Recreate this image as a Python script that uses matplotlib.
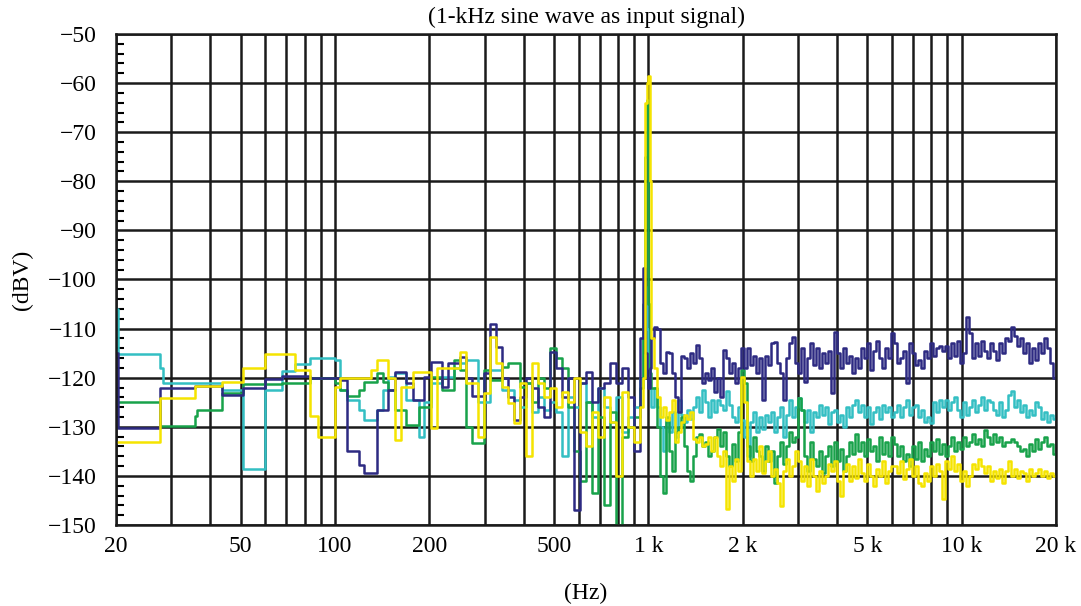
import numpy as np
import matplotlib.pyplot as plt
from matplotlib.ticker import MultipleLocator, NullLocator

plt.rcParams['font.family'] = ['Liberation Serif', 'DejaVu Serif']

# low end of the spectrum, drawn as steps (Hz, dBV)
navy_lo_f = [20, 20.3, 27.6, 35.7, 43.5, 51, 60, 67.6, 83.2]
navy_lo_db = [-115, -130.3, -122.2, -121.7, -123.5, -122.2, -120.3, -119.7, -120]
teal_lo_f = [20, 20.3, 27.6, 28.2, 43.5, 51, 60, 67.6, 74.6, 83.2]
teal_lo_db = [-106, -115.2, -118, -121.1, -122.5, -138.7, -122.5, -118.6, -117.2, -116]
green_lo_f = [20, 27.6, 35.7, 36.4, 43.5, 51, 67.6, 83.2]
green_lo_db = [-124.9, -129.8, -127.9, -126.5, -123.2, -121.3, -121.1, -120]
yellow_lo_f = [20, 27.6, 35.7, 43.5, 51, 60, 74.6, 83.2, 88]
yellow_lo_db = [-133, -124.2, -121.7, -120.8, -118.1, -115.2, -118.4, -127.9, -132]

# 100 Hz - 20 kHz, shared frequency points
freq_hi = [100, 104, 109, 114, 119, 124, 130, 136, 142, 148,
           155, 162, 169, 177, 185, 193, 202, 211, 220, 230,
           240, 251, 262, 274, 286, 299, 313, 327, 341, 357,
           373, 389, 407, 425, 444, 464, 485, 507, 530, 553,
           578, 604, 632, 660, 690, 721, 753, 787, 822, 859,
           898, 938, 960, 975, 990, 1000, 1012, 1022,
           1045, 1068, 1092, 1116, 1141, 1166, 1192, 1219, 1246, 1274,
           1302, 1331, 1361, 1391, 1422, 1454, 1486, 1519, 1553, 1587,
           1622, 1658, 1695, 1733, 1772, 1811, 1851, 1893, 1935, 1978,
           2022, 2067, 2113, 2160, 2208, 2257, 2307, 2358, 2411, 2464,
           2519, 2575, 2633, 2691, 2751, 2812, 2875, 2939, 3004, 3071,
           3140, 3210, 3281, 3354, 3428, 3505, 3583, 3662, 3744, 3827,
           3912, 3999, 4088, 4179, 4272, 4367, 4465, 4564, 4666, 4770,
           4876, 4984, 5095, 5208, 5324, 5443, 5564, 5688, 5814, 5944,
           6076, 6211, 6349, 6491, 6635, 6783, 6934, 7088, 7246, 7407,
           7572, 7740, 7912, 8088, 8268, 8452, 8640, 8832, 9029, 9230,
           9435, 9645, 9860, 10080, 10300, 10530, 10770, 11010, 11250, 11500,
           11760, 12020, 12290, 12560, 12840, 13130, 13420, 13720, 14020, 14330,
           14650, 14980, 15310, 15650, 16000, 16360, 16720, 17090, 17470, 17860,
           18260, 18670, 19080, 19510, 19940, 20000]

navy_hi = [-120, -120.5, -135, -135, -137.7, -139.4, -139.4, -126.5, -126.5, -122.5,
           -118.8, -118.8, -121, -124.5, -124.5, -119.8, -116.8, -116.8, -121.8, -117,
           -117, -115.7, -120, -123.8, -123.8, -119, -109, -113.7, -120, -124,
           -128.6, -124, -120, -122, -126, -128, -114.7, -118, -124, -120,
           -147, -121, -118.8, -125, -122, -121, -117, -121, -118, -124,
           -135, -112, -97.6, -115, -120, -122, -118, -112,
           -109.7, -110, -117, -119, -114.7, -115, -119, -124, -127, -115.5,
           -116, -118, -115, -117, -113.4, -116, -121, -119, -120.5, -118,
           -123, -120, -124, -114.4, -116, -119, -117, -121, -118, -114,
           -118, -114, -117.5, -115.5, -119, -116, -124.5, -115.5, -117.5, -113,
           -112.7, -117, -119, -124.5, -116, -113, -111.7, -117, -119, -114,
           -120.8, -116, -113, -117.5, -114, -118, -115, -117, -114.5, -123.2,
           -110.7, -115, -118, -114, -117, -115.5, -119, -116, -118, -114,
           -116, -113, -118.5, -114.5, -112.5, -116, -118, -114, -116, -111,
           -113, -117, -116, -114.5, -121, -113, -115, -117.5, -116.5, -118,
           -114.5, -116, -113, -115.5, -114, -113.5, -114.5, -113.5, -116, -113,
           -115.5, -112.5, -117, -115, -107.6, -111, -116, -113, -115.5, -112.5,
           -114.5, -116, -113, -114.5, -116.5, -113, -115, -112, -112.5, -109.7,
           -111.5, -113.5, -112, -115, -113, -117, -114, -116.5, -113, -115,
           -112, -114, -117, -120, -119.8, -119.8]

teal_hi = [-116.4, -122.5, -124.5, -124.5, -126.5, -128.6, -128.6, -126.5, -122.5, -119.8,
           -119, -119, -124.5, -124.5, -132, -125, -121, -121, -119.8, -119.8,
           -118, -117, -116.4, -116.4, -125, -125, -118.5, -118.5, -122.5, -122.5,
           -124.5, -126, -121, -127, -124, -126.5, -125, -127, -136, -124,
           -126, -121, -125, -128, -122, -126, -129, -124, -131, -128,
           -126, -120, -112, -101.5, -110, -118, -122, -126,
           -122, -125.9, -130, -135, -129, -131, -127, -132, -124.5, -127.5,
           -129, -126.5, -128.5, -126, -124, -127, -122.5, -125, -128, -124.5,
           -127, -124.5, -125.5, -126.5, -122.8, -125.5, -128, -129, -126, -128.6,
           -132, -136, -129, -127, -131, -128, -130.5, -127.5, -129, -127,
           -131, -128, -126, -132, -127.5, -124.5, -128, -126, -124.2, -126.5,
           -129, -126.5, -131, -127, -128, -125.5, -127.5, -126, -129.5, -127,
           -126.5, -129, -127.5, -130, -126, -128, -125.5, -124.5, -127, -125.5,
           -128, -126, -129.5, -127, -126, -128.5, -125.5, -127, -126, -128,
           -127, -125.5, -128, -126, -124.5, -127.5, -126, -125.5, -128, -126.5,
           -129, -128, -129.3, -125, -127, -124.5, -126, -124.5, -126.5, -125,
           -124, -126.5, -128, -125, -127.5, -126, -124.5, -127, -125.5, -124,
           -126.5, -124.5, -125, -126.5, -127.5, -125, -128, -126.5, -123.5, -122.8,
           -126, -124.5, -127, -125.5, -128, -126.5, -127.5, -125, -126, -128.5,
           -127, -129, -127.5, -128.5, -127, -127]

green_hi = [-121, -122.5, -123.8, -123.8, -122.5, -120.8, -120.8, -119, -120.8, -122.5,
            -126.5, -126.5, -129.6, -129.6, -125.9, -125.9, -119.8, -119.8, -122.5, -122.5,
            -116.4, -118.5, -130, -133.3, -133.3, -118.5, -120.5, -120.5, -117.8, -117,
            -117, -121.8, -121, -125, -120, -122, -114, -116, -118, -126,
            -135, -141, -125, -143.5, -128, -146, -127, -150, -132, -130,
            -128, -122, -105, -75, -63.5, -105, -119, -122,
            -122, -130, -140, -143.5, -128, -135, -139, -131, -130, -128,
            -134, -139, -141, -136, -132, -131.5, -134, -133, -136, -135,
            -132, -130.5, -134, -131, -136, -138, -133.5, -137, -131, -118.4,
            -121, -134, -137, -132, -135, -136, -139, -134, -137, -135,
            -141.4, -136, -133, -137.5, -134, -131, -133, -132, -124.2, -126.5,
            -136, -139, -133, -136.5, -138, -135, -139.5, -136, -134, -138,
            -133, -137, -134.5, -139, -136, -133, -135.5, -131.5, -135, -133,
            -136, -132.5, -135, -134, -137, -132, -135.5, -133, -136, -132,
            -133.5, -136, -134, -137, -135.5, -138, -134, -136.5, -133, -137,
            -134.5, -136, -133, -135, -132.5, -135.5, -133.5, -136, -134, -132,
            -135, -133, -134.5, -132, -134, -133, -131.5, -133.5, -132.5, -134,
            -130.6, -132, -133.5, -131.5, -133, -132, -134, -133, -133, -132.5,
            -133, -134, -135, -134.5, -136, -133.5, -135, -132.5, -134.5, -133,
            -132, -134, -133.5, -135.5, -136.5, -136]

yellow_hi = [-121.8, -120, -120, -120, -120, -120, -118.5, -116.4, -116.4, -120,
             -132.6, -121.8, -121.8, -118.8, -118.8, -118.8, -130.3, -118.1, -118.1, -118.1,
             -118.1, -114.7, -121, -121, -132, -123.2, -111.7, -117.1, -121.8, -125.2,
             -129.3, -121, -136, -117, -121, -124, -122, -126, -123, -125,
             -120, -131, -134, -127, -132, -124, -129, -140, -123, -130,
             -133, -126, -120, -64, -60, -58.5, -80, -112,
             -118, -124, -128, -126, -128.6, -127, -124.5, -133, -131, -129,
             -127.5, -128.5, -127, -132.5, -133, -132, -134, -133.5, -132, -135,
             -132, -136, -138, -135, -146.8, -138, -141, -136.5, -139, -119.8,
             -125, -137, -140, -136.5, -139, -134, -139.5, -137, -135, -140,
             -138.5, -141.5, -146.1, -139, -136.5, -140, -138, -135, -137, -141,
             -138, -142, -136.5, -140, -143, -139, -141.5, -140, -137.5, -139,
             -137, -141, -144.1, -139, -137.5, -141, -138, -140.5, -136.5, -139.5,
             -141, -137.5, -140, -142, -138.5, -140, -137, -141.5, -139, -138,
             -138, -139.5, -137, -140.7, -138.5, -136.5, -140, -138, -141.5, -142,
             -139.5, -141, -138, -140, -137.5, -139, -144.8, -137, -138.5, -136,
             -139, -137.5, -141, -139, -142, -140, -137.5, -138.5, -136.5, -138,
             -139.5, -138, -141, -139, -140.5, -138.5, -141.5, -139, -137, -140,
             -138.5, -140.5, -139, -139.5, -141, -138.5, -140, -139.5, -138.5, -140,
             -139, -140.5, -139.5, -140, -140, -140]

grid_freqs = [20, 30, 40, 50, 60, 70, 80, 90, 100, 200, 300, 400, 500, 600, 700,
              800, 900, 1000, 2000, 3000, 4000, 5000, 6000, 7000, 8000, 9000,
              10000, 20000]
grid_labels = ['20', '', '', '50', '', '', '', '', '100', '200', '', '', '500',
               '', '', '', '', '1 k', '2 k', '', '', '5 k', '', '', '', '',
               '10 k', '20 k']
y_ticks = [-150, -140, -130, -120, -110, -100, -90, -80, -70, -60, -50]

fig = plt.figure(figsize=(10.81, 6.06), dpi=100)
ax = fig.add_axes([0.1073, 0.1337, 0.8696, 0.8102])

series = [
    (teal_lo_f, teal_lo_db, teal_hi, '#33bfc3'),
    (green_lo_f, green_lo_db, green_hi, '#18a24a'),
    (navy_lo_f, navy_lo_db, navy_hi, '#2d2a82'),
    (yellow_lo_f, yellow_lo_db, yellow_hi, '#f5e400'),
]
for f_lo, d_lo, d_hi, col in series:
    f = np.concatenate([f_lo, freq_hi])
    d = np.concatenate([d_lo, d_hi])
    ax.plot(f, d, drawstyle='steps-post', color=col, lw=1.8)

ax.set_xscale('log')
ax.set_xlim(20, 20000)
ax.set_ylim(-150, -50)
ax.set_xticks(grid_freqs, labels=grid_labels)
ax.xaxis.set_minor_locator(NullLocator())
ax.set_yticks(y_ticks)
ax.yaxis.set_minor_locator(MultipleLocator(2))
ax.tick_params(axis='x', length=0, pad=8, labelsize=17)
ax.tick_params(axis='y', which='major', length=0, pad=14, labelsize=17)
ax.tick_params(axis='y', which='minor', direction='in', length=6, width=1.5)
ax.grid(True, which='major', color='#1a1a1a', lw=1.8)
for s in ax.spines.values():
    s.set_color('#1a1a1a')
    s.set_linewidth(1.8)

fig.text(586 / 1081, 1 - 17 / 606, '(1-kHz sine wave as input signal)',
         ha='center', va='center', fontsize=17)
fig.text(22 / 1081, 1 - 280 / 606, '(dBV)', rotation=90, ha='center',
         va='center', fontsize=17)
fig.text(586 / 1081, 1 - 593 / 606, '(Hz)', ha='center', va='center', fontsize=17)

fig.savefig('out.png', dpi=100)
